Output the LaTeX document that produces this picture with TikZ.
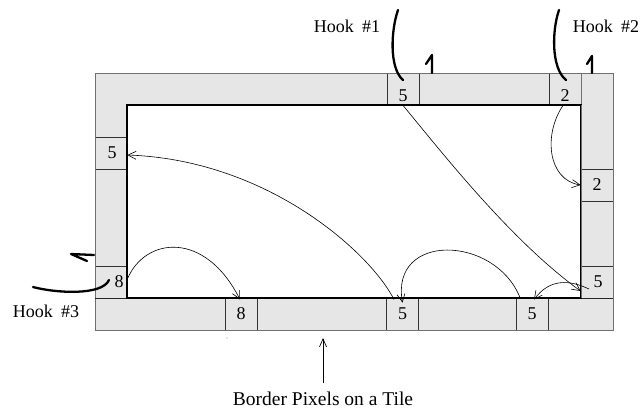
\documentclass[tikz,border=0pt]{standalone}
\usepackage{fontspec}
\setmainfont{Liberation Serif}
\usetikzlibrary{arrows.meta}
\definecolor{bandgray}{HTML}{E6E6E6}
\definecolor{edgegray}{HTML}{707070}
\begin{document}
\begin{tikzpicture}[x=1pt,y=-1pt,
  txt/.style={font=\fontsize{18}{20}\selectfont, inner sep=0pt},
  cell/.style={draw=black!80, line width=0.8pt, fill=bandgray, minimum size=32pt, inner sep=0pt},
  digit/.style={font=\fontsize{18}{20}\selectfont, inner sep=0pt},
  link/.style={line width=0.6pt, -{Straight Barb[length=8pt,width=8pt]}},
  hookstroke/.style={line width=2.3pt, line cap=round, line join=round}]
\useasboundingbox (0,0) rectangle (642,408);
% band
\fill[bandgray, even odd rule] (95,73) rectangle (613,330) (127,105) rectangle (581,298);
% cells
\node[cell, label={[digit,yshift=-6.5pt]center:5}] (t5) at (403,89) {};
\node[cell, label={[digit,yshift=-6.5pt]center:2}] (t2) at (565,89) {};
\node[cell, label={[digit,xshift=1pt]center:5}] (l5) at (111,153) {};
\node[cell, label={[digit,xshift=8pt]center:8}] (l8) at (111,282) {};
\node[cell, label={[digit]center:2}] (r2) at (597,185) {};
\node[cell, label={[digit,xshift=1pt]center:5}] (r5) at (597,282) {};
\node[cell, label={[digit]center:8}] (b8) at (241,314) {};
\node[cell, label={[digit]center:5}] (b5a) at (402.5,314) {};
\node[cell, label={[digit]center:5}] (b5b) at (532,314) {};
% outlines
\draw[edgegray, line width=1pt] (95,73) rectangle (613,330);
\draw[edgegray, line width=1pt] (581,73) -- (581,105);
\draw[black!85, line width=0.8pt] (95,298) -- (127,298) (581,298) -- (613,298);
\draw[black, line width=1.1pt] (127,105) rectangle (581,298);
\draw[edgegray, line width=1pt] (581,105) -- (581,298);
% connectors
\draw[link] (t5.south) .. controls (440,150) and (510,240) .. ([yshift=-9pt]r5.west);
\draw[link] ([xshift=-2pt]t2.south) .. controls (543,135) and (548,180) .. (r2.west);
\draw[link] ([xshift=-8.5pt,yshift=-2pt]b5a.north) .. controls (372,255) and (270,160) .. ([yshift=-2pt]l5.east);
\draw[link] ([yshift=3pt]l8.east) .. controls (145,237) and (205,230) .. ([xshift=-1pt,yshift=-2pt]b8.north);
\draw[link] ([xshift=-12pt]b5b.north) .. controls (495,235) and (390,232) .. ([yshift=-5pt]b5a.north);
\draw[link] ([xshift=-8pt,yshift=-7pt]r5.center) .. controls (570,280) and (550,278) .. ([xshift=2pt,yshift=-2pt]b5b.north);
% hooks
\draw[hookstroke] (398,10) .. controls (391,30) and (389,68) .. (403,80);
\draw[hookstroke] (432,73) -- (432,55) -- (426,64);
\draw[hookstroke] (559,10) .. controls (552,30) and (551,68) .. (566,80);
\draw[hookstroke] (592,73) -- (592,56) -- (587,64);
\draw[hookstroke] (33,287) .. controls (55,293) and (102,296) .. (109,280);
\draw[hookstroke] (94,255) -- (71,254) -- (87,261);
% labels
\node[txt, anchor=base] (h1) at (347,32) {Hook\hspace{0.45em}\#1};
\node[txt, anchor=base] (h2) at (606,32) {Hook\hspace{0.45em}\#2};
\node[txt, anchor=base] (h3) at (46,317) {Hook\hspace{0.45em}\#3};
\node[txt, font=\fontsize{19.5}{22}\selectfont, anchor=base] (cap) at (323,405) {Border Pixels on a Tile};
\coordinate (band) at (323,338);
\draw[line width=0.7pt, -{Straight Barb[length=8pt,width=7pt]}] (323,383) -- (band);
\fill[black!40] (227,338) circle (0.6);
\end{tikzpicture}
\end{document}
